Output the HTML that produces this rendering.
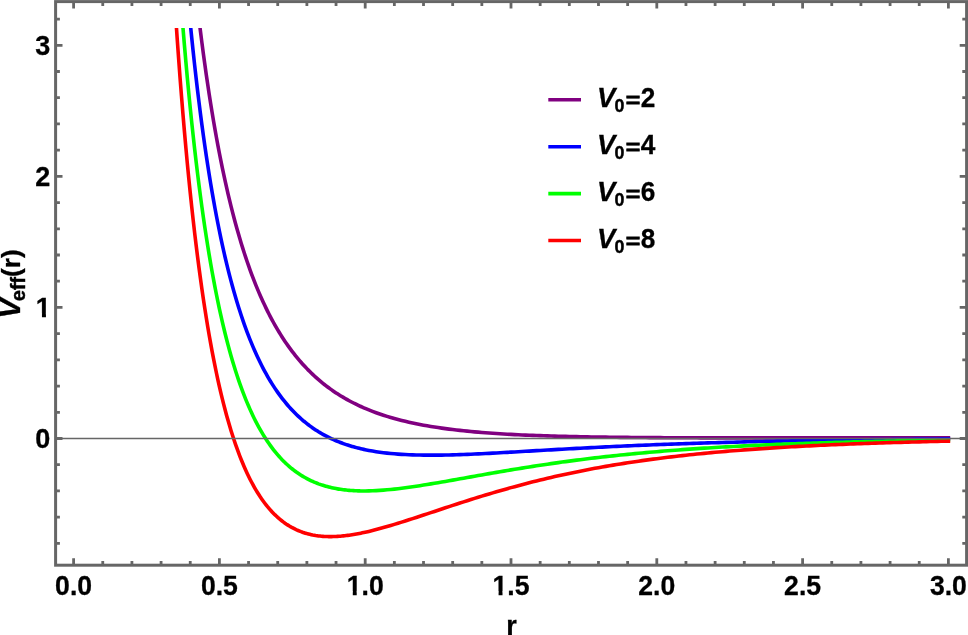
<!DOCTYPE html>
<html lang="en"><head><meta charset="utf-8"><title>Effective potential plot</title>
<style>html,body{margin:0;padding:0;background:#fff}svg{display:block}text{font-family:"Liberation Sans",Arial,Helvetica,sans-serif;font-weight:bold;fill:#000;stroke:#000;stroke-width:0.3px}.t{font-size:27px}.i{font-style:italic}.s{font-size:19.5px;stroke-width:0.45px}</style></head><body>
<svg width="968" height="635" viewBox="0 0 968 635">
<rect width="968" height="635" fill="#fff"/>
<defs><clipPath id="c"><rect x="50" y="27.9" width="920" height="540"/></clipPath></defs>
<g clip-path="url(#c)" fill="none" stroke-width="3.6" stroke-linejoin="round" stroke-linecap="square">
<path d="M193.16,-32.75 L194.61,-18.99 L196.07,-5.75 L197.53,7.02 L198.99,19.33 L200.45,31.19 L201.90,42.64 L203.36,53.69 L204.82,64.36 L206.28,74.66 L207.74,84.60 L209.19,94.22 L210.65,103.51 L212.11,112.50 L213.57,121.19 L215.03,129.60 L216.48,137.74 L217.94,145.62 L219.40,153.24 L220.86,160.63 L222.32,167.79 L223.77,174.73 L225.23,181.45 L226.69,187.97 L228.15,194.29 L229.61,200.42 L231.06,206.37 L232.52,212.15 L233.98,217.75 L235.44,223.19 L236.90,228.48 L238.35,233.61 L239.81,238.59 L241.27,243.43 L242.73,248.14 L244.19,252.71 L245.64,257.16 L247.10,261.48 L248.56,265.69 L250.02,269.78 L251.48,273.76 L252.93,277.63 L254.39,281.39 L255.85,285.06 L257.31,288.63 L258.77,292.10 L260.22,295.48 L261.68,298.78 L263.14,301.98 L264.60,305.11 L266.06,308.15 L267.51,311.12 L268.97,314.01 L270.43,316.82 L271.89,319.57 L273.35,322.25 L274.80,324.86 L276.26,327.40 L277.72,329.88 L279.18,332.30 L280.64,334.66 L282.09,336.96 L283.55,339.21 L285.01,341.40 L286.47,343.53 L287.93,345.62 L289.38,347.65 L290.84,349.64 L292.30,351.58 L293.76,353.47 L295.22,355.32 L296.67,357.13 L298.13,358.89 L299.59,360.61 L301.05,362.29 L302.51,363.93 L303.96,365.53 L305.42,367.10 L306.88,368.63 L308.34,370.12 L309.80,371.58 L311.25,373.01 L312.71,374.40 L314.17,375.76 L315.63,377.09 L317.09,378.39 L318.54,379.67 L320.00,380.91 L321.46,382.12 L322.92,383.31 L324.38,384.47 L325.83,385.61 L327.29,386.72 L328.75,387.80 L330.21,388.86 L331.67,389.90 L333.12,390.91 L334.58,391.91 L336.04,392.88 L337.50,393.83 L338.96,394.75 L340.41,395.66 L341.87,396.55 L343.33,397.42 L344.79,398.27 L346.25,399.10 L347.70,399.91 L349.16,400.71 L350.62,401.49 L352.08,402.25 L353.54,403.00 L354.99,403.73 L356.45,404.44 L357.91,405.14 L359.37,405.82 L360.83,406.49 L362.28,407.15 L363.74,407.79 L365.20,408.42 L368.85,409.93 L372.49,411.36 L376.13,412.72 L379.78,414.00 L383.43,415.22 L387.07,416.38 L390.72,417.48 L394.36,418.52 L398.00,419.51 L401.65,420.45 L405.29,421.34 L408.94,422.19 L412.59,422.99 L416.23,423.76 L419.88,424.48 L423.52,425.17 L427.16,425.82 L430.81,426.44 L434.46,427.03 L438.10,427.59 L441.75,428.12 L445.39,428.62 L449.04,429.10 L452.68,429.55 L456.33,429.99 L459.97,430.40 L463.62,430.79 L467.26,431.16 L470.91,431.51 L474.55,431.84 L478.20,432.16 L481.84,432.46 L485.49,432.75 L489.13,433.02 L492.77,433.28 L496.42,433.53 L500.07,433.76 L503.71,433.98 L507.36,434.19 L511.00,434.39 L514.65,434.58 L518.29,434.76 L521.94,434.93 L525.58,435.09 L529.23,435.25 L532.87,435.40 L536.51,435.54 L540.16,435.67 L543.81,435.79 L547.45,435.91 L551.10,436.03 L554.74,436.13 L558.39,436.23 L562.03,436.33 L565.68,436.42 L569.32,436.51 L572.97,436.59 L576.61,436.67 L580.25,436.74 L583.90,436.81 L587.55,436.88 L591.19,436.94 L594.84,437.00 L598.48,437.06 L602.13,437.11 L605.77,437.17 L609.42,437.21 L613.06,437.26 L616.71,437.30 L620.35,437.34 L624.00,437.38 L627.64,437.42 L631.29,437.45 L634.93,437.48 L638.58,437.52 L642.22,437.54 L645.87,437.57 L649.51,437.60 L653.16,437.62 L656.80,437.64 L660.45,437.67 L664.09,437.69 L667.74,437.71 L671.38,437.72 L675.03,437.74 L678.67,437.76 L682.32,437.77 L685.96,437.78 L689.61,437.80 L693.25,437.81 L696.90,437.82 L700.54,437.83 L704.19,437.84 L707.83,437.85 L711.48,437.86 L715.12,437.86 L718.77,437.87 L722.41,437.88 L726.06,437.88 L729.70,437.89 L733.35,437.89 L736.99,437.90 L740.64,437.90 L744.28,437.91 L747.93,437.91 L751.57,437.91 L755.22,437.91 L758.86,437.92 L762.50,437.92 L766.15,437.92 L769.80,437.92 L773.44,437.92 L777.09,437.92 L780.73,437.92 L784.38,437.92 L788.02,437.92 L791.67,437.92 L795.31,437.92 L798.96,437.92 L802.60,437.91 L806.25,437.91 L809.89,437.91 L813.54,437.91 L817.18,437.91 L820.83,437.90 L824.47,437.90 L828.12,437.90 L831.76,437.90 L835.41,437.89 L839.05,437.89 L842.70,437.89 L846.34,437.88 L849.99,437.88 L853.63,437.87 L857.28,437.87 L860.92,437.87 L864.57,437.86 L868.21,437.86 L871.86,437.85 L875.50,437.85 L879.15,437.84 L882.79,437.84 L886.44,437.83 L890.08,437.83 L893.73,437.82 L897.37,437.82 L901.02,437.81 L904.66,437.81 L908.31,437.80 L911.95,437.79 L915.60,437.79 L919.24,437.78 L922.89,437.77 L926.53,437.77 L930.18,437.76 L933.82,437.75 L937.47,437.75 L941.11,437.74 L944.75,437.73 L948.40,437.73" stroke="#800080"/>
<path d="M185.87,-24.16 L187.32,-7.80 L188.78,7.91 L190.24,23.01 L191.70,37.51 L193.16,51.46 L194.61,64.87 L196.07,77.77 L197.53,90.19 L198.99,102.15 L200.45,113.67 L201.90,124.76 L203.36,135.45 L204.82,145.76 L206.28,155.71 L207.74,165.30 L209.19,174.55 L210.65,183.48 L212.11,192.10 L213.57,200.43 L215.03,208.47 L216.48,216.24 L217.94,223.75 L219.40,231.01 L220.86,238.03 L222.32,244.81 L223.77,251.38 L225.23,257.73 L226.69,263.87 L228.15,269.81 L229.61,275.57 L231.06,281.14 L232.52,286.54 L233.98,291.76 L235.44,296.82 L236.90,301.72 L238.35,306.47 L239.81,311.08 L241.27,315.54 L242.73,319.86 L244.19,324.05 L245.64,328.11 L247.10,332.05 L248.56,335.87 L250.02,339.58 L251.48,343.17 L252.93,346.66 L254.39,350.04 L255.85,353.32 L257.31,356.50 L258.77,359.59 L260.22,362.59 L261.68,365.50 L263.14,368.32 L264.60,371.06 L266.06,373.72 L267.51,376.30 L268.97,378.81 L270.43,381.24 L271.89,383.60 L273.35,385.89 L274.80,388.12 L276.26,390.28 L277.72,392.38 L279.18,394.42 L280.64,396.39 L282.09,398.31 L283.55,400.18 L285.01,401.99 L286.47,403.75 L287.93,405.46 L289.38,407.11 L290.84,408.72 L292.30,410.29 L293.76,411.80 L295.22,413.28 L296.67,414.71 L298.13,416.10 L299.59,417.44 L301.05,418.75 L302.51,420.02 L303.96,421.26 L305.42,422.45 L306.88,423.61 L308.34,424.74 L309.80,425.83 L311.25,426.90 L312.71,427.93 L314.17,428.93 L315.63,429.89 L317.09,430.83 L318.54,431.75 L320.00,432.63 L321.46,433.49 L322.92,434.32 L324.38,435.13 L325.83,435.91 L327.29,436.66 L328.75,437.40 L330.21,438.11 L331.67,438.80 L333.12,439.47 L334.58,440.11 L336.04,440.74 L337.50,441.34 L338.96,441.93 L340.41,442.50 L341.87,443.05 L343.33,443.58 L344.79,444.09 L346.25,444.59 L347.70,445.07 L349.16,445.53 L350.62,445.98 L352.08,446.41 L353.54,446.83 L354.99,447.23 L356.45,447.62 L357.91,448.00 L359.37,448.36 L360.83,448.71 L362.28,449.05 L363.74,449.37 L365.20,449.68 L368.85,450.41 L372.49,451.07 L376.13,451.67 L379.78,452.20 L383.43,452.68 L387.07,453.11 L390.72,453.48 L394.36,453.81 L398.00,454.10 L401.65,454.35 L405.29,454.56 L408.94,454.73 L412.59,454.87 L416.23,454.99 L419.88,455.07 L423.52,455.13 L427.16,455.16 L430.81,455.17 L434.46,455.16 L438.10,455.13 L441.75,455.08 L445.39,455.01 L449.04,454.93 L452.68,454.84 L456.33,454.73 L459.97,454.61 L463.62,454.48 L467.26,454.34 L470.91,454.19 L474.55,454.03 L478.20,453.86 L481.84,453.69 L485.49,453.51 L489.13,453.33 L492.77,453.14 L496.42,452.95 L500.07,452.75 L503.71,452.55 L507.36,452.35 L511.00,452.14 L514.65,451.93 L518.29,451.73 L521.94,451.52 L525.58,451.30 L529.23,451.09 L532.87,450.88 L536.51,450.67 L540.16,450.46 L543.81,450.25 L547.45,450.04 L551.10,449.83 L554.74,449.62 L558.39,449.42 L562.03,449.21 L565.68,449.01 L569.32,448.81 L572.97,448.61 L576.61,448.41 L580.25,448.21 L583.90,448.02 L587.55,447.83 L591.19,447.64 L594.84,447.45 L598.48,447.27 L602.13,447.08 L605.77,446.90 L609.42,446.73 L613.06,446.55 L616.71,446.38 L620.35,446.21 L624.00,446.04 L627.64,445.88 L631.29,445.72 L634.93,445.56 L638.58,445.40 L642.22,445.25 L645.87,445.09 L649.51,444.95 L653.16,444.80 L656.80,444.65 L660.45,444.51 L664.09,444.37 L667.74,444.24 L671.38,444.10 L675.03,443.97 L678.67,443.84 L682.32,443.72 L685.96,443.59 L689.61,443.47 L693.25,443.35 L696.90,443.23 L700.54,443.12 L704.19,443.01 L707.83,442.90 L711.48,442.79 L715.12,442.68 L718.77,442.58 L722.41,442.47 L726.06,442.37 L729.70,442.28 L733.35,442.18 L736.99,442.09 L740.64,441.99 L744.28,441.90 L747.93,441.81 L751.57,441.73 L755.22,441.64 L758.86,441.56 L762.50,441.48 L766.15,441.40 L769.80,441.32 L773.44,441.24 L777.09,441.16 L780.73,441.09 L784.38,441.02 L788.02,440.95 L791.67,440.88 L795.31,440.81 L798.96,440.74 L802.60,440.68 L806.25,440.61 L809.89,440.55 L813.54,440.49 L817.18,440.43 L820.83,440.37 L824.47,440.31 L828.12,440.26 L831.76,440.20 L835.41,440.14 L839.05,440.09 L842.70,440.04 L846.34,439.99 L849.99,439.94 L853.63,439.89 L857.28,439.84 L860.92,439.79 L864.57,439.74 L868.21,439.70 L871.86,439.65 L875.50,439.61 L879.15,439.56 L882.79,439.52 L886.44,439.48 L890.08,439.44 L893.73,439.40 L897.37,439.36 L901.02,439.32 L904.66,439.28 L908.31,439.24 L911.95,439.20 L915.60,439.17 L919.24,439.13 L922.89,439.10 L926.53,439.06 L930.18,439.03 L933.82,438.99 L937.47,438.96 L941.11,438.92 L944.75,438.89 L948.40,438.86" stroke="#0000ff"/>
<path d="M178.58,-29.53 L180.03,-9.66 L181.49,9.35 L182.95,27.56 L184.41,45.01 L185.87,61.73 L187.32,77.76 L188.78,93.14 L190.24,107.90 L191.70,122.06 L193.16,135.67 L194.61,148.73 L196.07,161.29 L197.53,173.36 L198.99,184.97 L200.45,196.14 L201.90,206.88 L203.36,217.22 L204.82,227.17 L206.28,236.76 L207.74,245.99 L209.19,254.88 L210.65,263.45 L212.11,271.71 L213.57,279.67 L215.03,287.34 L216.48,294.75 L217.94,301.89 L219.40,308.77 L220.86,315.42 L222.32,321.83 L223.77,328.02 L225.23,334.00 L226.69,339.77 L228.15,345.34 L229.61,350.71 L231.06,355.91 L232.52,360.92 L233.98,365.77 L235.44,370.45 L236.90,374.97 L238.35,379.34 L239.81,383.56 L241.27,387.64 L242.73,391.58 L244.19,395.39 L245.64,399.07 L247.10,402.62 L248.56,406.06 L250.02,409.38 L251.48,412.59 L252.93,415.69 L254.39,418.69 L255.85,421.58 L257.31,424.38 L258.77,427.08 L260.22,429.69 L261.68,432.22 L263.14,434.66 L264.60,437.01 L266.06,439.28 L267.51,441.48 L268.97,443.60 L270.43,445.65 L271.89,447.63 L273.35,449.54 L274.80,451.38 L276.26,453.16 L277.72,454.88 L279.18,456.53 L280.64,458.13 L282.09,459.67 L283.55,461.15 L285.01,462.59 L286.47,463.96 L287.93,465.29 L289.38,466.57 L290.84,467.81 L292.30,468.99 L293.76,470.13 L295.22,471.23 L296.67,472.29 L298.13,473.30 L299.59,474.28 L301.05,475.22 L302.51,476.12 L303.96,476.98 L305.42,477.81 L306.88,478.60 L308.34,479.36 L309.80,480.09 L311.25,480.78 L312.71,481.45 L314.17,482.09 L315.63,482.69 L317.09,483.27 L318.54,483.83 L320.00,484.35 L321.46,484.85 L322.92,485.33 L324.38,485.78 L325.83,486.21 L327.29,486.61 L328.75,487.00 L330.21,487.36 L331.67,487.70 L333.12,488.02 L334.58,488.32 L336.04,488.60 L337.50,488.86 L338.96,489.11 L340.41,489.33 L341.87,489.54 L343.33,489.74 L344.79,489.91 L346.25,490.08 L347.70,490.22 L349.16,490.35 L350.62,490.47 L352.08,490.57 L353.54,490.66 L354.99,490.74 L356.45,490.81 L357.91,490.86 L359.37,490.90 L360.83,490.93 L362.28,490.95 L363.74,490.95 L365.20,490.95 L368.85,490.89 L372.49,490.78 L376.13,490.62 L379.78,490.40 L383.43,490.13 L387.07,489.83 L390.72,489.48 L394.36,489.10 L398.00,488.69 L401.65,488.24 L405.29,487.77 L408.94,487.27 L412.59,486.76 L416.23,486.22 L419.88,485.66 L423.52,485.09 L427.16,484.50 L430.81,483.90 L434.46,483.29 L438.10,482.67 L441.75,482.04 L445.39,481.41 L449.04,480.77 L452.68,480.12 L456.33,479.47 L459.97,478.82 L463.62,478.17 L467.26,477.52 L470.91,476.87 L474.55,476.22 L478.20,475.57 L481.84,474.92 L485.49,474.28 L489.13,473.63 L492.77,473.00 L496.42,472.37 L500.07,471.74 L503.71,471.12 L507.36,470.50 L511.00,469.89 L514.65,469.29 L518.29,468.69 L521.94,468.10 L525.58,467.51 L529.23,466.94 L532.87,466.37 L536.51,465.81 L540.16,465.25 L543.81,464.71 L547.45,464.17 L551.10,463.64 L554.74,463.11 L558.39,462.60 L562.03,462.09 L565.68,461.60 L569.32,461.11 L572.97,460.62 L576.61,460.15 L580.25,459.68 L583.90,459.22 L587.55,458.77 L591.19,458.33 L594.84,457.90 L598.48,457.47 L602.13,457.05 L605.77,456.64 L609.42,456.24 L613.06,455.85 L616.71,455.46 L620.35,455.08 L624.00,454.70 L627.64,454.34 L631.29,453.98 L634.93,453.63 L638.58,453.28 L642.22,452.95 L645.87,452.62 L649.51,452.29 L653.16,451.98 L656.80,451.67 L660.45,451.36 L664.09,451.06 L667.74,450.77 L671.38,450.49 L675.03,450.21 L678.67,449.93 L682.32,449.66 L685.96,449.40 L689.61,449.15 L693.25,448.89 L696.90,448.65 L700.54,448.41 L704.19,448.17 L707.83,447.94 L711.48,447.72 L715.12,447.50 L718.77,447.28 L722.41,447.07 L726.06,446.86 L729.70,446.66 L733.35,446.47 L736.99,446.27 L740.64,446.08 L744.28,445.90 L747.93,445.72 L751.57,445.54 L755.22,445.37 L758.86,445.20 L762.50,445.04 L766.15,444.87 L769.80,444.72 L773.44,444.56 L777.09,444.41 L780.73,444.26 L784.38,444.12 L788.02,443.98 L791.67,443.84 L795.31,443.70 L798.96,443.57 L802.60,443.44 L806.25,443.31 L809.89,443.19 L813.54,443.07 L817.18,442.95 L820.83,442.84 L824.47,442.72 L828.12,442.61 L831.76,442.50 L835.41,442.40 L839.05,442.29 L842.70,442.19 L846.34,442.09 L849.99,441.99 L853.63,441.90 L857.28,441.81 L860.92,441.71 L864.57,441.63 L868.21,441.54 L871.86,441.45 L875.50,441.37 L879.15,441.29 L882.79,441.21 L886.44,441.13 L890.08,441.05 L893.73,440.97 L897.37,440.90 L901.02,440.83 L904.66,440.75 L908.31,440.68 L911.95,440.62 L915.60,440.55 L919.24,440.48 L922.89,440.42 L926.53,440.35 L930.18,440.29 L933.82,440.23 L937.47,440.17 L941.11,440.11 L944.75,440.05 L948.40,439.99" stroke="#00ff00"/>
<path d="M172.74,-29.76 L174.20,-6.27 L175.66,16.14 L177.12,37.54 L178.58,57.99 L180.03,77.54 L181.49,96.23 L182.95,114.11 L184.41,131.23 L185.87,147.62 L187.32,163.32 L188.78,178.36 L190.24,192.78 L191.70,206.61 L193.16,219.87 L194.61,232.60 L196.07,244.81 L197.53,256.53 L198.99,267.79 L200.45,278.61 L201.90,289.00 L203.36,298.98 L204.82,308.58 L206.28,317.80 L207.74,326.68 L209.19,335.21 L210.65,343.41 L212.11,351.31 L213.57,358.91 L215.03,366.21 L216.48,373.25 L217.94,380.02 L219.40,386.54 L220.86,392.81 L222.32,398.85 L223.77,404.67 L225.23,410.27 L226.69,415.67 L228.15,420.86 L229.61,425.86 L231.06,430.68 L232.52,435.31 L233.98,439.78 L235.44,444.08 L236.90,448.22 L238.35,452.21 L239.81,456.05 L241.27,459.74 L242.73,463.30 L244.19,466.72 L245.64,470.02 L247.10,473.19 L248.56,476.24 L250.02,479.18 L251.48,482.00 L252.93,484.72 L254.39,487.33 L255.85,489.84 L257.31,492.26 L258.77,494.57 L260.22,496.80 L261.68,498.94 L263.14,500.99 L264.60,502.96 L266.06,504.85 L267.51,506.66 L268.97,508.40 L270.43,510.07 L271.89,511.66 L273.35,513.19 L274.80,514.65 L276.26,516.04 L277.72,517.38 L279.18,518.65 L280.64,519.86 L282.09,521.02 L283.55,522.13 L285.01,523.18 L286.47,524.18 L287.93,525.13 L289.38,526.03 L290.84,526.89 L292.30,527.70 L293.76,528.46 L295.22,529.19 L296.67,529.87 L298.13,530.51 L299.59,531.11 L301.05,531.68 L302.51,532.21 L303.96,532.70 L305.42,533.16 L306.88,533.59 L308.34,533.98 L309.80,534.34 L311.25,534.67 L312.71,534.98 L314.17,535.25 L315.63,535.50 L317.09,535.71 L318.54,535.91 L320.00,536.08 L321.46,536.22 L322.92,536.34 L324.38,536.43 L325.83,536.51 L327.29,536.56 L328.75,536.59 L330.21,536.60 L331.67,536.60 L333.12,536.57 L334.58,536.52 L336.04,536.46 L337.50,536.38 L338.96,536.28 L340.41,536.17 L341.87,536.04 L343.33,535.89 L344.79,535.74 L346.25,535.56 L347.70,535.38 L349.16,535.18 L350.62,534.96 L352.08,534.74 L353.54,534.50 L354.99,534.25 L356.45,533.99 L357.91,533.72 L359.37,533.44 L360.83,533.15 L362.28,532.84 L363.74,532.53 L365.20,532.22 L368.85,531.38 L372.49,530.49 L376.13,529.56 L379.78,528.59 L383.43,527.59 L387.07,526.55 L390.72,525.48 L394.36,524.39 L398.00,523.27 L401.65,522.14 L405.29,520.98 L408.94,519.82 L412.59,518.64 L416.23,517.45 L419.88,516.25 L423.52,515.05 L427.16,513.84 L430.81,512.63 L434.46,511.42 L438.10,510.21 L441.75,509.00 L445.39,507.80 L449.04,506.60 L452.68,505.41 L456.33,504.22 L459.97,503.04 L463.62,501.86 L467.26,500.70 L470.91,499.55 L474.55,498.40 L478.20,497.27 L481.84,496.15 L485.49,495.04 L489.13,493.94 L492.77,492.86 L496.42,491.79 L500.07,490.73 L503.71,489.69 L507.36,488.66 L511.00,487.64 L514.65,486.64 L518.29,485.65 L521.94,484.68 L525.58,483.72 L529.23,482.78 L532.87,481.86 L536.51,480.94 L540.16,480.05 L543.81,479.16 L547.45,478.30 L551.10,477.44 L554.74,476.61 L558.39,475.78 L562.03,474.98 L565.68,474.18 L569.32,473.40 L572.97,472.64 L576.61,471.89 L580.25,471.15 L583.90,470.43 L587.55,469.72 L591.19,469.03 L594.84,468.35 L598.48,467.68 L602.13,467.02 L605.77,466.38 L609.42,465.75 L613.06,465.14 L616.71,464.54 L620.35,463.94 L624.00,463.37 L627.64,462.80 L631.29,462.24 L634.93,461.70 L638.58,461.17 L642.22,460.65 L645.87,460.14 L649.51,459.64 L653.16,459.15 L656.80,458.68 L660.45,458.21 L664.09,457.75 L667.74,457.30 L671.38,456.87 L675.03,456.44 L678.67,456.02 L682.32,455.61 L685.96,455.21 L689.61,454.82 L693.25,454.44 L696.90,454.06 L700.54,453.70 L704.19,453.34 L707.83,452.99 L711.48,452.65 L715.12,452.31 L718.77,451.99 L722.41,451.67 L726.06,451.35 L729.70,451.05 L733.35,450.75 L736.99,450.46 L740.64,450.17 L744.28,449.90 L747.93,449.62 L751.57,449.36 L755.22,449.10 L758.86,448.84 L762.50,448.59 L766.15,448.35 L769.80,448.11 L773.44,447.88 L777.09,447.66 L780.73,447.43 L784.38,447.22 L788.02,447.01 L791.67,446.80 L795.31,446.60 L798.96,446.40 L802.60,446.21 L806.25,446.02 L809.89,445.83 L813.54,445.65 L817.18,445.47 L820.83,445.30 L824.47,445.13 L828.12,444.97 L831.76,444.81 L835.41,444.65 L839.05,444.50 L842.70,444.34 L846.34,444.20 L849.99,444.05 L853.63,443.91 L857.28,443.77 L860.92,443.64 L864.57,443.51 L868.21,443.38 L871.86,443.25 L875.50,443.13 L879.15,443.01 L882.79,442.89 L886.44,442.77 L890.08,442.66 L893.73,442.55 L897.37,442.44 L901.02,442.33 L904.66,442.23 L908.31,442.13 L911.95,442.03 L915.60,441.93 L919.24,441.83 L922.89,441.74 L926.53,441.65 L930.18,441.55 L933.82,441.47 L937.47,441.38 L941.11,441.29 L944.75,441.21 L948.40,441.13" stroke="#ff0000"/>
</g>
<line x1="55.6" y1="438.5" x2="966.6" y2="438.5" stroke="#666666" stroke-width="1.4"/>
<path d="M73.60,565.2v-6.9M73.60,1.6v6.9M102.76,565.2v-4.3M102.76,1.6v4.3M131.92,565.2v-4.3M131.92,1.6v4.3M161.08,565.2v-4.3M161.08,1.6v4.3M190.24,565.2v-4.3M190.24,1.6v4.3M219.40,565.2v-6.9M219.40,1.6v6.9M248.56,565.2v-4.3M248.56,1.6v4.3M277.72,565.2v-4.3M277.72,1.6v4.3M306.88,565.2v-4.3M306.88,1.6v4.3M336.04,565.2v-4.3M336.04,1.6v4.3M365.20,565.2v-6.9M365.20,1.6v6.9M394.36,565.2v-4.3M394.36,1.6v4.3M423.52,565.2v-4.3M423.52,1.6v4.3M452.68,565.2v-4.3M452.68,1.6v4.3M481.84,565.2v-4.3M481.84,1.6v4.3M511.00,565.2v-6.9M511.00,1.6v6.9M540.16,565.2v-4.3M540.16,1.6v4.3M569.32,565.2v-4.3M569.32,1.6v4.3M598.48,565.2v-4.3M598.48,1.6v4.3M627.64,565.2v-4.3M627.64,1.6v4.3M656.80,565.2v-6.9M656.80,1.6v6.9M685.96,565.2v-4.3M685.96,1.6v4.3M715.12,565.2v-4.3M715.12,1.6v4.3M744.28,565.2v-4.3M744.28,1.6v4.3M773.44,565.2v-4.3M773.44,1.6v4.3M802.60,565.2v-6.9M802.60,1.6v6.9M831.76,565.2v-4.3M831.76,1.6v4.3M860.92,565.2v-4.3M860.92,1.6v4.3M890.08,565.2v-4.3M890.08,1.6v4.3M919.24,565.2v-4.3M919.24,1.6v4.3M948.40,565.2v-6.9M948.40,1.6v6.9M55.6,543.36h4.3M966.6,543.36h-4.3M55.6,517.14h4.3M966.6,517.14h-4.3M55.6,490.93h4.3M966.6,490.93h-4.3M55.6,464.71h4.3M966.6,464.71h-4.3M55.6,438.50h6.9M966.6,438.50h-6.9M55.6,412.29h4.3M966.6,412.29h-4.3M55.6,386.07h4.3M966.6,386.07h-4.3M55.6,359.86h4.3M966.6,359.86h-4.3M55.6,333.64h4.3M966.6,333.64h-4.3M55.6,307.43h6.9M966.6,307.43h-6.9M55.6,281.22h4.3M966.6,281.22h-4.3M55.6,255.00h4.3M966.6,255.00h-4.3M55.6,228.79h4.3M966.6,228.79h-4.3M55.6,202.57h4.3M966.6,202.57h-4.3M55.6,176.36h6.9M966.6,176.36h-6.9M55.6,150.15h4.3M966.6,150.15h-4.3M55.6,123.93h4.3M966.6,123.93h-4.3M55.6,97.72h4.3M966.6,97.72h-4.3M55.6,71.50h4.3M966.6,71.50h-4.3M55.6,45.29h6.9M966.6,45.29h-6.9M55.6,19.08h4.3M966.6,19.08h-4.3" stroke="#666666" stroke-width="2.8" fill="none"/>
<rect x="55.6" y="1.6" width="911.0" height="563.6" fill="none" stroke="#666666" stroke-width="3.0"/>
<g transform="translate(73.6,594.7) scale(0.985,1.045)"><text class="t" text-anchor="middle">0.0</text></g>
<g transform="translate(219.4,594.7) scale(0.985,1.045)"><text class="t" text-anchor="middle">0.5</text></g>
<g transform="translate(365.2,594.7) scale(0.985,1.045)"><text class="t" text-anchor="middle">1.0</text><rect x="-18.16" y="-3.2" width="5.55" height="4.6" fill="#fff"/><rect x="-8.62" y="-3.2" width="5.3" height="4.6" fill="#fff"/></g>
<g transform="translate(511.0,594.7) scale(0.985,1.045)"><text class="t" text-anchor="middle">1.5</text><rect x="-18.16" y="-3.2" width="5.55" height="4.6" fill="#fff"/><rect x="-8.62" y="-3.2" width="5.3" height="4.6" fill="#fff"/></g>
<g transform="translate(656.8,594.7) scale(0.985,1.045)"><text class="t" text-anchor="middle">2.0</text></g>
<g transform="translate(802.6,594.7) scale(0.985,1.045)"><text class="t" text-anchor="middle">2.5</text></g>
<g transform="translate(948.4,594.7) scale(0.985,1.045)"><text class="t" text-anchor="middle">3.0</text></g>
<g transform="translate(50.2,447.9) scale(1,1.045)"><text class="t" text-anchor="end">0</text></g>
<g transform="translate(50.800000000000004,316.8) scale(1,1.045)"><text class="t" text-anchor="end">1</text><rect x="-14.41" y="-3.2" width="5.55" height="4.6" fill="#fff"/><rect x="-4.86" y="-3.2" width="5.3" height="4.6" fill="#fff"/></g>
<g transform="translate(50.2,185.8) scale(1,1.045)"><text class="t" text-anchor="end">2</text></g>
<g transform="translate(50.2,54.7) scale(1,1.045)"><text class="t" text-anchor="end">3</text></g>
<text class="t" x="511.6" y="635.2" text-anchor="middle">r</text>
<text class="t i" transform="translate(19.6,318.6) rotate(-90) scale(1.11,1.09)">V</text>
<text class="s" transform="translate(25.3,300.9) rotate(-90)">eff</text>
<text class="t" transform="translate(19.6,277.0) rotate(-90) scale(0.97,0.94)">(r)</text>
<line x1="548.3" y1="99.8" x2="581" y2="99.8" stroke="#800080" stroke-width="3.6"/>
<text class="t i" transform="translate(597.1,107.35) scale(1.017,1.03)">V</text>
<text class="s" transform="translate(614.4,112.05) scale(0.913,0.964)">0</text>
<text class="t" style="stroke-width:1px" transform="translate(625.7,107.40) scale(0.92,0.777)">=</text>
<text class="t" transform="translate(640.7,107.35) scale(0.97,1.03)">2</text>
<line x1="548.3" y1="146.7" x2="581" y2="146.7" stroke="#0000ff" stroke-width="3.6"/>
<text class="t i" transform="translate(597.1,154.25) scale(1.017,1.03)">V</text>
<text class="s" transform="translate(614.4,158.95) scale(0.913,0.964)">0</text>
<text class="t" style="stroke-width:1px" transform="translate(625.7,154.30) scale(0.92,0.777)">=</text>
<text class="t" transform="translate(640.7,154.25) scale(0.97,1.03)">4</text>
<line x1="548.3" y1="193.6" x2="581" y2="193.6" stroke="#00ff00" stroke-width="3.6"/>
<text class="t i" transform="translate(597.1,201.15) scale(1.017,1.03)">V</text>
<text class="s" transform="translate(614.4,205.85) scale(0.913,0.964)">0</text>
<text class="t" style="stroke-width:1px" transform="translate(625.7,201.20) scale(0.92,0.777)">=</text>
<text class="t" transform="translate(640.7,201.15) scale(0.97,1.03)">6</text>
<line x1="548.3" y1="240.5" x2="581" y2="240.5" stroke="#ff0000" stroke-width="3.6"/>
<text class="t i" transform="translate(597.1,248.05) scale(1.017,1.03)">V</text>
<text class="s" transform="translate(614.4,252.75) scale(0.913,0.964)">0</text>
<text class="t" style="stroke-width:1px" transform="translate(625.7,248.10) scale(0.92,0.777)">=</text>
<text class="t" transform="translate(640.7,248.05) scale(0.97,1.03)">8</text>
</svg></body></html>
